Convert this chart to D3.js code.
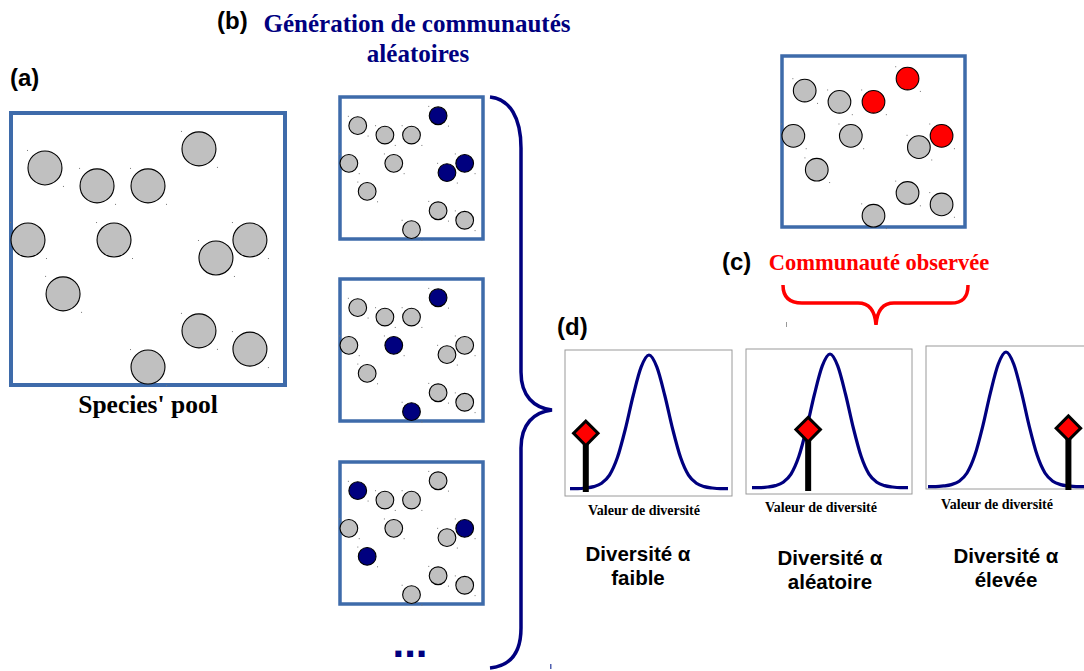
<!DOCTYPE html>
<html>
<head>
<meta charset="utf-8">
<script src="https://cdn.jsdelivr.net/npm/d3@7"></script>
<style>
  html, body { margin: 0; padding: 0; background: #fff; }
  svg { display: block; }
</style>
</head>
<body>
<svg id="chart" width="1084" height="671"></svg>
<script>
// ---------- DATA ----------
// Species positions in the pool, as fractions of the box width / height
const speciesX = [0.124, 0.314, 0.500, 0.686, 0.062, 0.376, 0.748, 0.872, 0.190, 0.686, 0.872, 0.500];
const speciesY = [0.202, 0.268, 0.268, 0.132, 0.467, 0.467, 0.533, 0.467, 0.665, 0.801, 0.868, 0.934];
// Species drawn in the random communities (b), by species index
const random1 = [3, 6, 7];
const random2 = [3, 5, 11];
const random3 = [0, 7, 8];
// Species of the observed community (c)
const observed = [2, 3, 7];
// Null distribution (relative density at 21 evenly spaced values)
const nullDensity = [0.01, 0.01, 0.015, 0.025, 0.05, 0.11, 0.24, 0.45, 0.70, 0.91, 1.0,
                     0.91, 0.70, 0.45, 0.24, 0.11, 0.05, 0.025, 0.015, 0.01, 0.01];
// Observed diversity value (position on the value axis) and marker height
const observedValue = [0.10, 0.36, 0.90];
const markerHeight = [0.42, 0.44, 0.44];
const panelTitles = ["faible", "aléatoire", "élevée"];
const axisLabel = "Valeur de diversité";

// ---------- DRAWING ----------
const svg = d3.select("#chart");
const SERIF = "'Liberation Serif', 'Times New Roman', serif";
const SANS = "'Liberation Sans', Arial, sans-serif";
const BOX = "#3E6BAA";
const NAVY = "#00007F";
const RED = "#FF0000";
const GRAY = "#C0C0C0";

function community(x0, y0, w, h, sw, highlight, hlColor) {
  const g = svg.append("g");
  const sx = d3.scaleLinear().domain([0, 1]).range([x0, x0 + w]);
  const sy = d3.scaleLinear().domain([0, 1]).range([y0, y0 + h]);
  const r = 0.062 * w;
  g.append("rect").attr("x", x0).attr("y", y0).attr("width", w).attr("height", h)
    .attr("fill", "#fff").attr("stroke", BOX).attr("stroke-width", sw);
  const ids = d3.range(speciesX.length);
  // selection-handle specks
  g.selectAll("rect.h1").data(ids).join("rect")
    .attr("x", i => sx(speciesX[i]) - r - 1).attr("y", i => sy(speciesY[i]) - r - 1)
    .attr("width", 1).attr("height", 1).attr("fill", "#777");
  g.selectAll("rect.h2").data(ids).join("rect")
    .attr("x", i => sx(speciesX[i]) + r + 1).attr("y", i => sy(speciesY[i]) + r + 1)
    .attr("width", 1).attr("height", 1).attr("fill", "#777");
  g.selectAll("circle").data(ids).join("circle")
    .attr("cx", i => sx(speciesX[i])).attr("cy", i => sy(speciesY[i])).attr("r", r)
    .attr("fill", i => highlight.includes(i) ? hlColor : GRAY)
    .attr("stroke", "#000").attr("stroke-width", 1.1);
}

// (a) Species pool
community(11, 113, 274, 272, 4, [], GRAY);
// (b) random communities
community(340, 97, 143, 142, 3.5, random1, NAVY);
community(340, 279, 143, 142, 3.5, random2, NAVY);
community(340, 462, 143, 142, 3.5, random3, NAVY);
// (c) observed community
community(782, 56, 183, 171, 3.5, observed, RED);

// Labels
function txt(x, y, s, size, fam, fill, anchor) {
  return svg.append("text").attr("x", x).attr("y", y).text(s)
    .attr("font-size", size).attr("font-family", fam).attr("font-weight", "bold")
    .attr("fill", fill).attr("text-anchor", anchor || "start");
}
txt(10, 86, "(a)", 24, SANS, "#000");
txt(217, 29, "(b)", 24, SANS, "#000");
txt(417, 32, "Génération de communautés", 25, SERIF, NAVY, "middle");
txt(418, 62, "aléatoires", 25, SERIF, NAVY, "middle");
txt(148, 413, "Species' pool", 25.5, SERIF, "#000", "middle");
txt(722, 270, "(c)", 24, SANS, "#000");
txt(879, 270, "Communauté observée", 22.5, SERIF, RED, "middle");
txt(557, 335, "(d)", 24, SANS, "#000");
txt(410, 657, "...", 42, SANS, NAVY, "middle");

// small stray marks
svg.append("rect").attr("x", 550).attr("y", 664).attr("width", 1.5).attr("height", 5).attr("fill", "#5060b0");
svg.append("rect").attr("x", 786).attr("y", 322).attr("width", 1).attr("height", 5).attr("fill", "#999");

// Braces
const nb = d3.path();
nb.moveTo(490, 97);
nb.bezierCurveTo(510, 99, 521, 118, 521, 148);
nb.lineTo(521, 372);
nb.bezierCurveTo(521, 396, 534, 408, 552, 410);
nb.bezierCurveTo(534, 412, 521, 424, 521, 448);
nb.lineTo(521, 628);
nb.bezierCurveTo(521, 654, 510, 666, 490, 668);
svg.append("path").attr("d", nb.toString()).attr("fill", "none")
  .attr("stroke", NAVY).attr("stroke-width", 3.5);

const rb = d3.path();
rb.moveTo(783, 285);
rb.bezierCurveTo(783, 298, 790, 303, 802, 303);
rb.lineTo(858, 303);
rb.bezierCurveTo(869, 303, 875, 310, 876, 325);
rb.bezierCurveTo(877, 310, 883, 303, 894, 303);
rb.lineTo(951, 303);
rb.bezierCurveTo(962, 303, 968, 298, 968, 285);
svg.append("path").attr("d", rb.toString()).attr("fill", "none")
  .attr("stroke", RED).attr("stroke-width", 3.5);

// (d) panels
const panels = [
  {bx: 565, by: 350, bw: 167, bh: 146, x0: 570, x1: 728, base: 490, peak: 355, lx: 644, ly: 515, tx: 638, ty: 561},
  {bx: 746, by: 349, bw: 166, bh: 145, x0: 752, x1: 908, base: 489, peak: 354, lx: 821, ly: 512, tx: 830, ty: 565},
  {bx: 926, by: 346, bw: 170, bh: 143, x0: 928, x1: 1084, base: 488, peak: 352, lx: 997, ly: 509, tx: 1006, ty: 563}
];
panels.forEach((p, k) => {
  const g = svg.append("g");
  const x = d3.scaleLinear().domain([0, 1]).range([p.x0, p.x1]);
  const y = d3.scaleLinear().domain([0, 1]).range([p.base, p.peak]);
  g.append("rect").attr("x", p.bx).attr("y", p.by).attr("width", p.bw).attr("height", p.bh)
    .attr("fill", "#fff").attr("stroke", "#9a9a9a").attr("stroke-width", 1);
  const line = d3.line()
    .x((d, i) => x(i / (nullDensity.length - 1)))
    .y(d => y(d))
    .curve(d3.curveMonotoneX);
  g.append("path").attr("d", line(nullDensity)).attr("fill", "none")
    .attr("stroke", NAVY).attr("stroke-width", 3.2);
  const mx = x(observedValue[k]);
  const my = y(markerHeight[k]);
  g.append("line").attr("x1", mx).attr("x2", mx).attr("y1", my).attr("y2", y(0) + 2)
    .attr("stroke", "#000").attr("stroke-width", 6);
  g.append("path")
    .attr("d", d3.symbol(d3.symbolSquare, 300)())
    .attr("transform", `translate(${mx},${my}) rotate(45)`)
    .attr("fill", RED).attr("stroke", "#000").attr("stroke-width", 3);
  txt(p.lx, p.ly, axisLabel, 14, SERIF, "#000", "middle");
  txt(p.tx, p.ty, "Diversité α", 20.5, SANS, "#000", "middle");
  txt(p.tx, p.ty + 24, panelTitles[k], 20.5, SANS, "#000", "middle");
});
</script>
</body>
</html>
